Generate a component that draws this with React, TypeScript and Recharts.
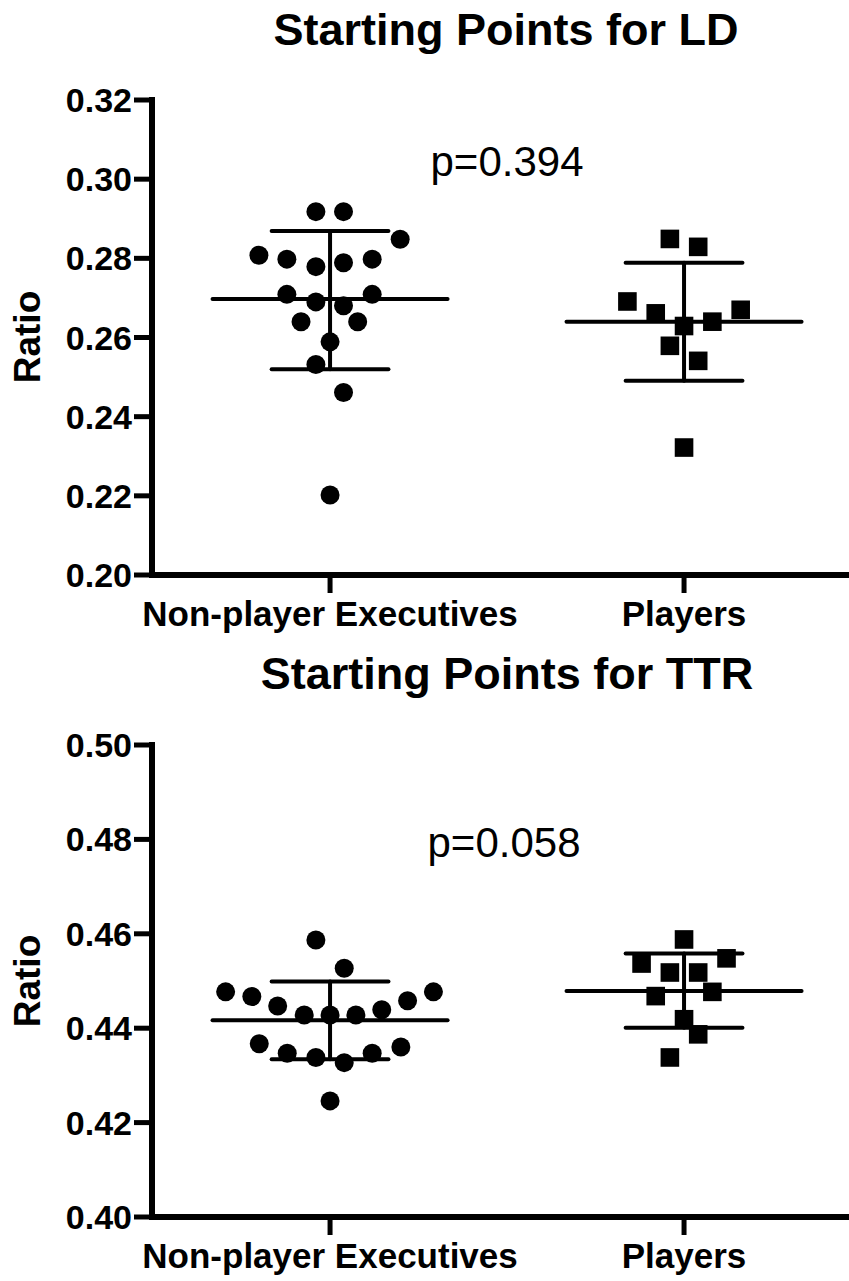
import React from 'react';
import {
  ScatterChart,
  Scatter,
  XAxis,
  YAxis,
  ReferenceLine,
} from 'recharts';

const FONT = '"Liberation Sans", Arial, Helvetica, sans-serif';

// categories sit at x = 0 and x = 1, points are jittered around them
const categories = ['Non-player Executives', 'Players'];

// Starting Points for LD
const ldExecutives = [
  { x: -0.04, y: 0.2918 }, { x: 0.038, y: 0.2918 }, { x: 0.198, y: 0.2848 },
  { x: -0.201, y: 0.2808 }, { x: -0.122, y: 0.2798 }, { x: -0.04, y: 0.2779 },
  { x: 0.038, y: 0.2789 }, { x: 0.119, y: 0.2798 }, { x: -0.122, y: 0.2709 },
  { x: -0.04, y: 0.269 }, { x: 0.038, y: 0.268 }, { x: 0.119, y: 0.2709 },
  { x: -0.082, y: 0.264 }, { x: 0.078, y: 0.264 }, { x: 0.0, y: 0.2589 },
  { x: -0.04, y: 0.2532 }, { x: 0.038, y: 0.2461 }, { x: 0.0, y: 0.2202 },
];
const ldPlayers = [
  { x: 0.96, y: 0.2849 }, { x: 1.04, y: 0.2829 }, { x: 0.84, y: 0.2691 },
  { x: 0.92, y: 0.2661 }, { x: 1.0, y: 0.2629 }, { x: 1.08, y: 0.264 },
  { x: 1.16, y: 0.267 }, { x: 0.96, y: 0.2579 }, { x: 1.04, y: 0.2541 },
  { x: 1.0, y: 0.2322 },
];
const ldMean = [0.2697, 0.264];
const ldSdLow = [0.252, 0.2491];
const ldSdHigh = [0.2869, 0.2789];
const ldTicks = [0.2, 0.22, 0.24, 0.26, 0.28, 0.3, 0.32];

// Starting Points for TTR
const ttrExecutives = [
  { x: -0.04, y: 0.4587 }, { x: 0.04, y: 0.4527 }, { x: -0.295, y: 0.4477 },
  { x: -0.221, y: 0.4467 }, { x: -0.148, y: 0.4447 }, { x: -0.073, y: 0.4428 },
  { x: 0.0, y: 0.4428 }, { x: 0.073, y: 0.4428 }, { x: 0.146, y: 0.4439 },
  { x: 0.219, y: 0.4458 }, { x: 0.292, y: 0.4477 }, { x: -0.2, y: 0.4367 },
  { x: -0.121, y: 0.4347 }, { x: -0.04, y: 0.4338 }, { x: 0.04, y: 0.4327 },
  { x: 0.119, y: 0.4347 }, { x: 0.2, y: 0.436 }, { x: 0.0, y: 0.4246 },
];
const ttrPlayers = [
  { x: 1.0, y: 0.4588 }, { x: 0.88, y: 0.4537 }, { x: 1.12, y: 0.4548 },
  { x: 0.96, y: 0.4518 }, { x: 1.04, y: 0.4518 }, { x: 0.92, y: 0.4468 },
  { x: 1.08, y: 0.4477 }, { x: 1.0, y: 0.4419 }, { x: 1.04, y: 0.4387 },
  { x: 0.96, y: 0.4338 },
];
const ttrMean = [0.4417, 0.4479];
const ttrSdLow = [0.4334, 0.4401];
const ttrSdHigh = [0.4499, 0.4558];
const ttrTicks = [0.4, 0.42, 0.44, 0.46, 0.48, 0.5];

const MEAN_HALF = 0.332;
const WHISKER_HALF = 0.165;

const Dot = (p: any) => <circle cx={p.cx} cy={p.cy} r={9.5} fill="#000" />;
const Square = (p: any) => (
  <rect x={p.cx - 9.3} y={p.cy - 9.3} width={18.6} height={18.6} fill="#000" />
);

interface PanelProps {
  execs: { x: number; y: number }[];
  players: { x: number; y: number }[];
  mean: number[];
  low: number[];
  high: number[];
  ticks: number[];
  marginTop: number;
  xAxisHeight: number;
  height: number;
}

const lineStyle = { stroke: '#000', strokeWidth: 4, strokeLinecap: 'round' as const };

const Panel: React.FC<PanelProps> = ({ execs, players, mean, low, high, ticks, marginTop, xAxisHeight, height }) => (
  <ScatterChart width={849} height={height} margin={{ top: marginTop, right: 0, bottom: 0, left: 0 }}>
    <XAxis
      type="number"
      dataKey="x"
      domain={[-0.503, 1.466]}
      ticks={[0, 1]}
      interval={0}
      allowDataOverflow
      height={xAxisHeight}
      tickFormatter={(v) => categories[v] ?? ''}
      axisLine={{ stroke: '#000', strokeWidth: 6, strokeLinecap: 'square' }}
      tickLine={{ stroke: '#000', strokeWidth: 5 }}
      tickSize={18}
      tickMargin={8}
      tick={{ fill: '#000', fontSize: 35, fontWeight: 'bold', fontFamily: FONT }}
    />
    <YAxis
      type="number"
      dataKey="y"
      domain={[ticks[0], ticks[ticks.length - 1]]}
      ticks={ticks}
      interval={0}
      allowDataOverflow
      width={152}
      tickFormatter={(v) => v.toFixed(2)}
      axisLine={{ stroke: '#000', strokeWidth: 6, strokeLinecap: 'square' }}
      tickLine={{ stroke: '#000', strokeWidth: 5 }}
      tickSize={18}
      tickMargin={2}
      tick={{ fill: '#000', fontSize: 34, fontWeight: 'bold', fontFamily: FONT }}
    />
    {mean.map((m, i) => (
      <ReferenceLine key={`m${i}`} segment={[{ x: i - MEAN_HALF, y: m }, { x: i + MEAN_HALF, y: m }]} {...lineStyle} />
    ))}
    {mean.map((_, i) => (
      <ReferenceLine key={`v${i}`} segment={[{ x: i, y: low[i] }, { x: i, y: high[i] }]} {...lineStyle} />
    ))}
    {mean.map((_, i) => (
      <ReferenceLine key={`h${i}`} segment={[{ x: i - WHISKER_HALF, y: high[i] }, { x: i + WHISKER_HALF, y: high[i] }]} {...lineStyle} />
    ))}
    {mean.map((_, i) => (
      <ReferenceLine key={`l${i}`} segment={[{ x: i - WHISKER_HALF, y: low[i] }, { x: i + WHISKER_HALF, y: low[i] }]} {...lineStyle} />
    ))}
    <Scatter data={execs} shape={Dot} isAnimationActive={false} />
    <Scatter data={players} shape={Square} isAnimationActive={false} />
  </ScatterChart>
);

export default function App() {
  return (
    <div style={{ position: 'absolute', left: 0, top: 0, width: 849, height: 1281, background: '#fff' }}>
      <div style={{ position: 'absolute', left: 0, top: 0 }}>
        <Panel
          execs={ldExecutives}
          players={ldPlayers}
          mean={ldMean}
          low={ldSdLow}
          high={ldSdHigh}
          ticks={ldTicks}
          marginTop={100}
          xAxisHeight={65}
          height={640}
        />
      </div>
      <div style={{ position: 'absolute', left: 0, top: 640 }}>
        <Panel
          execs={ttrExecutives}
          players={ttrPlayers}
          mean={ttrMean}
          low={ttrSdLow}
          high={ttrSdHigh}
          ticks={ttrTicks}
          marginTop={105}
          xAxisHeight={64}
          height={641}
        />
      </div>
      <svg width={849} height={1281} style={{ position: 'absolute', left: 0, top: 0, pointerEvents: 'none' }}>
        <g fontFamily={FONT} fill="#000">
          <text x={506} y={45} textAnchor="middle" fontSize={45} fontWeight="bold">Starting Points for LD</text>
          <text x={507} y={689} textAnchor="middle" fontSize={45} fontWeight="bold">Starting Points for TTR</text>
          <text x={507} y={176} textAnchor="middle" fontSize={42}>p=0.394</text>
          <text x={504} y={857} textAnchor="middle" fontSize={42}>p=0.058</text>
          <text x={40} y={337} textAnchor="middle" fontSize={37} fontWeight="bold" transform="rotate(-90 40 337)">Ratio</text>
          <text x={40} y={981} textAnchor="middle" fontSize={37} fontWeight="bold" transform="rotate(-90 40 981)">Ratio</text>
        </g>
      </svg>
    </div>
  );
}
